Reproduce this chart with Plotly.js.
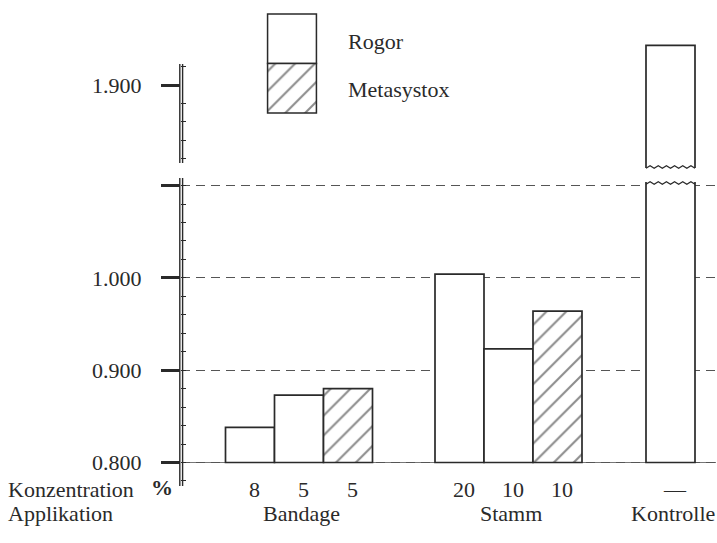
<!DOCTYPE html>
<html>
<head>
<meta charset="utf-8">
<script src="https://cdn.plot.ly/plotly-3.0.1.min.js"></script>
<style>
html,body{margin:0;padding:0;background:#fff;}
#chart{width:717px;height:543px;}
</style>
</head>
<body>
<div id="chart"></div>
<script>
// ---- data ----
const applikation = ["Bandage","Bandage","Bandage","Stamm","Stamm","Stamm","Kontrolle"];
const konzentration = ["8","5","5","20","10","10","—"];
const rogor      = [0.838, 0.873, null, 1.004, 0.923, null, null];
const metasystox = [null, null, 0.880, null, null, 0.964, null];
const kontrolle  = [null, null, null, null, null, null, 1.943];
const seriesNames = ["Rogor", "Metasystox"];
const tickValsLower = [0.8, 0.9, 1.0, 1.1];
const tickTextLower = ["0.800", "0.900", "1.000", ""];
const tickValsUpper = [1.9];
const tickTextUpper = ["1.900"];
const baseValue = 0.8;

// ---- layout helpers (pixel geometry) ----
const W = 717, H = 543;
const px = p => p / W;
const py = p => 1 - p / H;
const unitPx = 923;            // pixels per 1.0 on the value axis
const lowerRef = {v: 0.8, p: 462.5};
const upperRef = {v: 1.9, p: 85};
const valAt = (ref, p) => ref.v + (ref.p - p) / unitPx;

const lowerTop = 182, lowerBot = 486;
const upperTop = 40, upperBot = 168;
const lowerRange = [valAt(lowerRef, lowerBot), valAt(lowerRef, lowerTop)];
const upperRange = [valAt(upperRef, upperBot), valAt(upperRef, upperTop)];

// x positions: bar width = 1 unit = 49 px; first bar centre at 250 px
const barPx = 49, firstCentre = 250, plotLeft = 181, plotRight = 716;
const groupStart = {Bandage: 0, Stamm: (459.5 - firstCentre) / barPx, Kontrolle: (670.5 - firstCentre) / barPx};
const xpos = [];
const seen = {};
applikation.forEach(g => { seen[g] = (seen[g] || 0); xpos.push(groupStart[g] + seen[g]); seen[g]++; });
const xRange = [(plotLeft - firstCentre) / barPx, (plotRight - firstCentre) / barPx];

const ink = "#2a2a2a";
const serif = "'Liberation Serif', 'Times New Roman', serif";
const lineStyle = {color: ink, width: 1.7};
const hatch = {shape: "/", size: 14, solidity: 0.15, fgcolor: "#1a1a1a", bgcolor: "white", fillmode: "overlay"};

function barTrace(vals, yaxis, pattern, name) {
  const xs = [], ys = [];
  vals.forEach((v, i) => { if (v !== null) { xs.push(xpos[i]); ys.push(v - baseValue); } });
  const t = {type: "bar", x: xs, y: ys, base: baseValue, width: 1, yaxis: yaxis, name: name,
    marker: {color: "white", line: lineStyle}, showlegend: false, hoverinfo: "skip"};
  if (pattern) t.marker.pattern = pattern;
  return t;
}

const traces = [
  barTrace(rogor, "y", null, "Rogor"),
  barTrace(metasystox, "y", hatch, "Metasystox"),
  barTrace(kontrolle, "y", null, "Kontrolle"),
  barTrace(kontrolle, "y2", null, "Kontrolle"),
  // legend box
  {type: "bar", x: [0], y: [1], base: 1, width: 1, xaxis: "x2", yaxis: "y5", name: seriesNames[0],
   marker: {color: "white", line: lineStyle}, showlegend: false, hoverinfo: "skip"},
  {type: "bar", x: [0], y: [1], base: 0, width: 1, xaxis: "x2", yaxis: "y5", name: seriesNames[1],
   marker: {color: "white", line: lineStyle, pattern: hatch}, showlegend: false, hoverinfo: "skip"}
];

// wavy break lines on the Kontrolle bar
const kx = xpos[6];
function wave(pCentre) {
  let d = "";
  const n = 12;
  for (let i = 0; i <= n; i++) {
    const x = kx - 0.5 + i / n;
    const p = pCentre + (i % 2 === 0 ? 1.2 : -1.2);
    d += (i === 0 ? "M" : "L") + x + "," + py(p);
  }
  return d;
}

const axisLine = (x, p0, p1) => ({type: "line", xref: "paper", yref: "paper",
  x0: px(x), x1: px(x), y0: py(p0), y1: py(p1), line: {color: ink, width: 1.4}, layer: "above"});

const shapes = [
  axisLine(179.8, 64, 163), axisLine(182.6, 64, 163),
  axisLine(179.8, 178, lowerBot), axisLine(182.6, 178, lowerBot),
  {type: "line", xref: "paper", yref: "y", x0: px(183), x1: px(plotRight), y0: baseValue, y1: baseValue,
   line: {color: "#777", width: 1}, layer: "between"},
  {type: "path", xref: "x", yref: "paper", path: wave(lowerTop + 1), line: {color: ink, width: 1.3}, layer: "above"},
  {type: "path", xref: "x", yref: "paper", path: wave(upperBot - 1), line: {color: ink, width: 1.3}, layer: "above"}
];

const txtFont = {family: serif, size: 22, color: ink};
const annotations = [
  {text: "Konzentration", x: px(6), y: py(489), xref: "paper", yref: "paper", xanchor: "left", yanchor: "middle", showarrow: false, font: txtFont},
  {text: "<b>%</b>", x: px(149), y: py(487), xref: "paper", yref: "paper", xanchor: "left", yanchor: "middle", showarrow: false, font: txtFont},
  {text: "Applikation", x: px(6), y: py(513), xref: "paper", yref: "paper", xanchor: "left", yanchor: "middle", showarrow: false, font: txtFont},
  {text: seriesNames[0], x: px(346), y: py(41), xref: "paper", yref: "paper", xanchor: "left", yanchor: "middle", showarrow: false, font: txtFont},
  {text: seriesNames[1], x: px(346), y: py(89), xref: "paper", yref: "paper", xanchor: "left", yanchor: "middle", showarrow: false, font: txtFont}
];
konzentration.forEach((k, i) => annotations.push({text: k, x: xpos[i], y: py(489), xref: "x", yref: "paper",
  xanchor: "center", yanchor: "middle", xshift: 4, showarrow: false, font: txtFont}));
Object.keys(groupStart).forEach(g => {
  const idx = applikation.map((a, i) => a === g ? i : -1).filter(i => i >= 0);
  const mid = idx.reduce((s, i) => s + xpos[i], 0) / idx.length;
  annotations.push({text: g, x: mid, y: py(513), xref: "x", yref: "paper", xanchor: "center", yanchor: "middle",
    xshift: 2, showarrow: false, font: txtFont});
});

const tickFont = {family: serif, size: 22, color: ink};
const commonY = {anchor: "x", side: "left", zeroline: false, showline: false, fixedrange: true,
  tickfont: tickFont, ticks: "outside", ticklen: 19, tickwidth: 3, tickcolor: ink, ticklabelstandoff: 15};

const layout = {
  width: W, height: H,
  margin: {l: 0, r: 0, t: 0, b: 0},
  paper_bgcolor: "white", plot_bgcolor: "rgba(0,0,0,0)",
  barmode: "overlay", bargap: 0,
  showlegend: false,
  xaxis: {domain: [px(plotLeft), px(plotRight)], range: xRange, visible: false, fixedrange: true},
  yaxis: Object.assign({}, commonY, {
    domain: [py(lowerBot), py(lowerTop)], range: lowerRange,
    tickmode: "array", tickvals: tickValsLower, ticktext: tickTextLower,
    showgrid: true, gridcolor: "#555", gridwidth: 1, griddash: "9px,6px",
    minor: {tickmode: "linear", tick0: 0.8, dtick: 0.02, ticks: "inside", ticklen: 5, tickwidth: 1, tickcolor: ink, showgrid: false}
  }),
  yaxis2: Object.assign({}, commonY, {
    domain: [py(upperBot), py(upperTop)], range: upperRange,
    tickmode: "array", tickvals: tickValsUpper, ticktext: tickTextUpper, showgrid: false,
    minor: {tickmode: "array", tickvals: [1.82, 1.84, 1.86, 1.88, 1.92], ticks: "inside", ticklen: 5, tickwidth: 1, tickcolor: ink, showgrid: false}
  }),
  yaxis3: {overlaying: "y", anchor: "x", side: "left", range: lowerRange, tickmode: "array", tickvals: [0.85, 0.95, 1.05],
    ticks: "outside", ticklen: 6, tickwidth: 1, tickcolor: ink, showticklabels: false, showgrid: false, zeroline: false, fixedrange: true},
  yaxis4: {overlaying: "y2", anchor: "x", side: "left", range: upperRange, tickmode: "array", tickvals: [1.85],
    ticks: "outside", ticklen: 6, tickwidth: 1, tickcolor: ink, showticklabels: false, showgrid: false, zeroline: false, fixedrange: true},
  xaxis2: {domain: [px(266.5), px(317.5)], range: [-0.52, 0.52], visible: false, anchor: "y5", fixedrange: true},
  yaxis5: {domain: [py(114), py(13)], range: [-0.02, 2.02], visible: false, anchor: "x2", fixedrange: true},
  shapes: shapes,
  annotations: annotations
};

Plotly.newPlot("chart", traces, layout, {staticPlot: true, displayModeBar: false});
</script>
</body>
</html>
